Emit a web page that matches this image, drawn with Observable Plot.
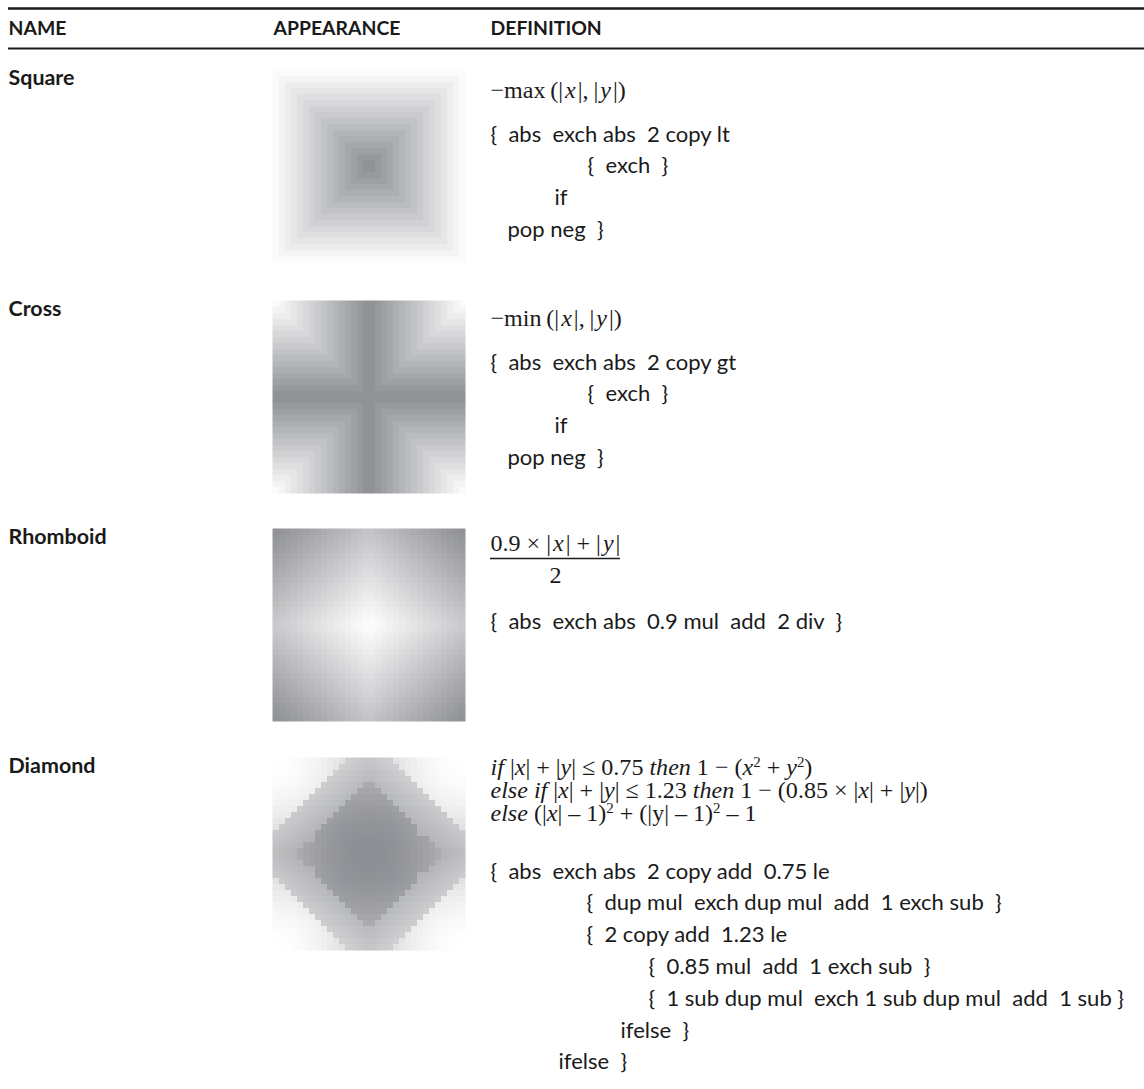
<!DOCTYPE html>
<html>
<head>
<meta charset="utf-8">
<script src="https://cdn.jsdelivr.net/npm/d3@7"></script>
<script src="https://cdn.jsdelivr.net/npm/@observablehq/plot@0.6"></script>
<style>
  html, body { margin: 0; padding: 0; background: #fff; }
  #chart svg text { white-space: pre; }
</style>
</head>
<body>
<div id="chart"></div>
<script>
// ---------- content ----------
const headers = ["NAME", "APPEARANCE", "DEFINITION"];
const names = ["Square", "Cross", "Rhomboid", "Diamond"];

// formulas: *..* = italic, ^..^ = superscript
const formulaSquare = ["−max\u2009(|\u200a*x*\u200a|,\u2009|\u200a*y*\u200a|)"];
const formulaCross = ["−min\u2009(|\u200a*x*\u200a|,\u2009|\u200a*y*\u200a|)"];
const formulaRhomboidNumerator = "0.9 × |\u200a*x*\u200a| + |\u200a*y*\u200a|";
const formulaRhomboidDenominator = "2";
const formulaDiamond = [
  "*if* |*x*| + |*y*| ≤ 0.75 *then* 1 − (*x*^2^ + *y*^2^)",
  "*else if* |*x*| + |*y*| ≤ 1.23 *then* 1 − (0.85 × |*x*| + |*y*|)",
  "*else* (|*x*| – 1)^2^ + (|y| – 1)^2^ – 1"
];

const codeSquare = ["{  abs  exch abs  2 copy lt", "{  exch  }", "if", "pop neg  }"];
const codeCross = ["{  abs  exch abs  2 copy gt", "{  exch  }", "if", "pop neg  }"];
const codeRhomboid = ["{  abs  exch abs  0.9 mul  add  2 div  }"];
const codeDiamond = [
  "{  abs  exch abs  2 copy add  0.75 le",
  "{  dup mul  exch dup mul  add  1 exch sub  }",
  "{  2 copy add  1.23 le",
  "{  0.85 mul  add  1 exch sub  }",
  "{  1 sub dup mul  exch 1 sub dup mul  add  1 sub }",
  "ifelse  }",
  "ifelse  }"
];
const codeLines = [codeSquare, codeCross, codeRhomboid, codeDiamond];

// spot functions shown in the APPEARANCE column (as defined in the DEFINITION column)
const spotFunctions = [
  (x, y) => -Math.max(Math.abs(x), Math.abs(y)),
  (x, y) => -Math.min(Math.abs(x), Math.abs(y)),
  (x, y) => (0.9 * Math.abs(x) + Math.abs(y)) / 2,
  (x, y) => {
    const ax = Math.abs(x), ay = Math.abs(y);
    if (ax + ay <= 0.75) return 1 - (x * x + y * y);
    if (ax + ay <= 1.23) return 1 - (0.85 * ax + ay);
    return (ax - 1) ** 2 + (ay - 1) ** 2 - 1;
  }
];
const spotRanges = [[-1, 0], [-1, 0], [0, 0.95], [-1, 1]];

// ---------- layout ----------
const W = 1144, H = 1089;
const L = {
  colX: [8, 273, 490],
  topRuleY: 8, headerY: 28, headerRuleY: 48,
  rowTop: [69, 300, 528, 757],
  imgSize: 193, cells: 32,
  labelDy: 9,
  formulaY: [90, 318, 543, 767], formulaStep: 23,
  barY: 558, denomY: 575,
  codeY: [134, 362, 621, 871], codeStep: 31.8,
  codeIndent: [[0, 97, 64, 17], [0, 97, 64, 17], [0], [0, 96, 96, 158, 158, 130, 68]],
  ink: "#1a1a1a", dark: "#8d8e93"
};

// ---------- font fitting ----------
const ctx = document.createElement("canvas").getContext("2d");
function tw(str, font) { ctx.font = font; return ctx.measureText(str).width; }
function fit(str, font100, target, dflt) {
  const w = tw(str, font100);
  return w > 0 ? 100 * target / w : dflt;
}
const SUP = 0.62, RISE = 0.36;
const parts = s => s.split(/(\*[^*]+\*|\^[^^]+\^)/).filter(p => p);
function richWidth(s, size, fam) {
  let w = 0;
  for (const p of parts(s)) {
    if (p[0] === "*") w += tw(p.slice(1, -1), `italic 400 ${size}px ${fam}`);
    else if (p[0] === "^") w += tw(p.slice(1, -1), `normal 400 ${size * SUP}px ${fam}`);
    else w += tw(p, `normal 400 ${size}px ${fam}`);
  }
  return w;
}
const SANS = "Lato", SERIF = "'Liberation Serif'";
const codeSize = fit(codeDiamond[0], `normal 400 100px ${SANS}`, 340, 21);
const headerSize = fit("APPEARANCE", `normal 700 100px ${SANS}`, 127, 18);
const labelSize = fit("Cross", `normal 700 100px ${SANS}`, 53, 19);
const fw = richWidth(formulaDiamond[0], 100, SERIF);
const formulaSize = fw > 0 ? 100 * 322 / fw : 20;
const numW = richWidth(formulaRhomboidNumerator, formulaSize, SERIF) || 140;

// ---------- table rows ----------
const headerRows = headers.map((t, i) => ({text: t, x: L.colX[i], y: L.headerY}));
const labelRows = names.map((t, r) => ({text: t, x: L.colX[0], y: L.rowTop[r] + L.labelDy}));
const formulaRows = [
  ...formulaSquare.map((t, i) => ({text: t, x: L.colX[2], y: L.formulaY[0] + i * L.formulaStep})),
  ...formulaCross.map((t, i) => ({text: t, x: L.colX[2], y: L.formulaY[1] + i * L.formulaStep})),
  {text: formulaRhomboidNumerator, x: L.colX[2], y: L.formulaY[2]},
  ...formulaDiamond.map((t, i) => ({text: t, x: L.colX[2], y: L.formulaY[3] + i * L.formulaStep}))
];
const denomRows = [{text: formulaRhomboidDenominator, x: L.colX[2] + numW / 2, y: L.denomY}];
const barRows = [{y: L.barY, x1: L.colX[2], x2: L.colX[2] + numW}];
const codeRows = codeLines.flatMap((lines, r) =>
  lines.map((t, i) => ({text: t, x: L.colX[2] + L.codeIndent[r][i], y: L.codeY[r] + i * L.codeStep})));

const rasters = names.map((_, r) => {
  const x1 = L.colX[1] - 1, y1 = L.rowTop[r], s = L.imgSize;
  const cx = x1 + s / 2, cy = y1 + s / 2, half = s / 2;
  const [lo, hi] = spotRanges[r];
  return Plot.raster({
    x1, x2: x1 + s, y1, y2: y1 + s,
    width: L.cells, height: L.cells,
    imageRendering: "pixelated",
    fill: (x, y) => (spotFunctions[r]((x - cx) / half, (y - cy) / half) - lo) / (hi - lo)
  });
});

const svg = Plot.plot({
  width: W, height: H,
  marginTop: 0, marginRight: 0, marginBottom: 0, marginLeft: 0,
  x: {domain: [0, W], axis: null},
  y: {domain: [0, H], range: [0, H], axis: null},
  color: {type: "linear", domain: [0, 1], range: ["#ffffff", L.dark], interpolate: "rgb"},
  style: {background: "#fff"},
  marks: [
    ...rasters,
    Plot.ruleY([{y: L.topRuleY, x1: L.colX[0], x2: W}], {y: "y", x1: "x1", x2: "x2", stroke: L.ink, strokeWidth: 2.5}),
    Plot.ruleY([{y: L.headerRuleY, x1: L.colX[0], x2: W}], {y: "y", x1: "x1", x2: "x2", stroke: L.ink, strokeWidth: 1.8}),
    Plot.text(headerRows, {x: "x", y: "y", text: "text", textAnchor: "start", lineAnchor: "middle",
      fontFamily: SANS, fontWeight: 700, fontSize: headerSize, fill: L.ink}),
    Plot.text(labelRows, {x: "x", y: "y", text: "text", textAnchor: "start", lineAnchor: "middle",
      fontFamily: SANS, fontWeight: 700, fontSize: labelSize, fill: L.ink}),
    Plot.text(formulaRows, {x: "x", y: "y", text: "text", textAnchor: "start", lineAnchor: "middle",
      fontFamily: SERIF, fontSize: formulaSize, fill: L.ink}),
    Plot.ruleY(barRows, {y: "y", x1: "x1", x2: "x2", stroke: L.ink, strokeWidth: 1.6}),
    Plot.text(denomRows, {x: "x", y: "y", text: "text", textAnchor: "middle", lineAnchor: "middle",
      fontFamily: SERIF, fontSize: formulaSize, fill: L.ink}),
    Plot.text(codeRows, {x: "x", y: "y", text: "text", textAnchor: "start", lineAnchor: "middle",
      fontFamily: SANS, fontSize: codeSize, fill: L.ink})
  ]
});

// rich text for formulas: italics and superscripts as tspans
d3.select(svg).selectAll("text").each(function () {
  const s = this.textContent;
  if (!/[*^]/.test(s)) return;
  const sel = d3.select(this);
  sel.text(null);
  const rise = formulaSize * RISE;
  let raised = false;
  for (const p of parts(s)) {
    const t = sel.append("tspan");
    let dy = 0;
    if (p[0] === "^") {
      t.text(p.slice(1, -1)).attr("font-size", formulaSize * SUP);
      if (!raised) dy = -rise;
      raised = true;
    } else {
      t.text(p[0] === "*" ? p.slice(1, -1) : p);
      if (p[0] === "*") t.attr("font-style", "italic");
      if (raised) dy = rise;
      raised = false;
    }
    if (dy) t.attr("dy", dy);
  }
});

document.getElementById("chart").appendChild(svg);
</script>
</body>
</html>
